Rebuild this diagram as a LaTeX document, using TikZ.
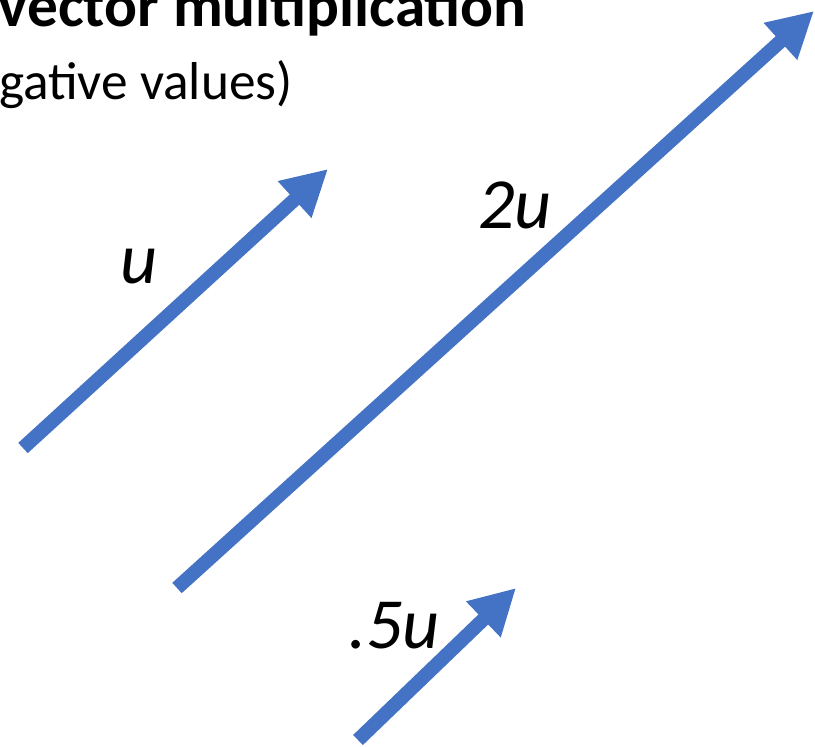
\documentclass[tikz,border=0pt]{standalone}
\usepackage{fontspec}
\setmainfont{Carlito}
\usetikzlibrary{arrows.meta}
\definecolor{vecblue}{HTML}{4472C4}

\begin{document}
\begin{tikzpicture}[
    x=0.75pt, y=-0.75pt,
    vec/.style={draw=vecblue, line width=10.5pt, -{Triangle[length=34pt,width=35pt]}},
    veclabel/.style={font=\fontsize{54}{62}\selectfont\itshape, inner sep=0pt, anchor=base west}
  ]
  \useasboundingbox (0,0) rectangle (815,747);

  % heading (cut off at the left)
  \node [font=\fontsize{46}{54}\selectfont\bfseries, inner sep=0pt, anchor=base east] (title) at (527,26) {vector multiplication};
  \node [font=\fontsize{40}{48}\selectfont, inner sep=0pt, anchor=base east] (subtitle) at (293,99) {gative values)};

  % vectors
  \coordinate (uTail) at (23,448);
  \coordinate (uTip) at (328,169);
  \coordinate (twoTail) at (177,588);
  \coordinate (twoTip) at (814,11);
  \coordinate (halfTail) at (358,740);
  \coordinate (halfTip) at (516,588);

  \draw [vec] (uTail) -- (uTip);
  \draw [vec] (twoTail) -- (twoTip);
  \draw [vec] (halfTail) -- (halfTip);

  \node [veclabel] (uLabel) at (120,283) {u};
  \node [veclabel] (twoLabel) at (478,228) {2u};
  \node [veclabel] (halfLabel) at (348,648) {.5u};
\end{tikzpicture}
\end{document}
